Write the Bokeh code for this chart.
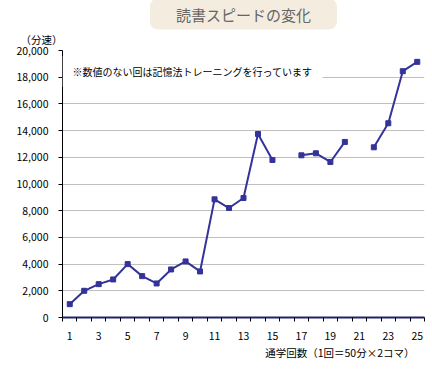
import numpy as np
from bokeh.plotting import figure
from bokeh.models import Label, Title, FixedTicker, NumeralTickFormatter, Range1d
from bokeh.embed import file_html
from bokeh.resources import INLINE

title_text = "読書スピードの変化"
y_unit_label = "（分速）"
x_axis_title = "通学回数（1回＝50分×2コマ）"
note_text = "※数値のない回は記憶法トレーニングを行っています"

sessions = list(range(1, 26))
speed = [1000, 2000, 2500, 2850, 4000, 3100, 2550, 3600, 4200, 3450,
         8850, 8200, 8950, 13750, 11800, np.nan, 12150, 12300, 11650, 13150,
         np.nan, 12750, 14550, 18450, 19150]
y_ticks = list(range(0, 20001, 2000))

FONT = "Noto Sans CJK JP"
NAVY = "#333399"

p = figure(width=432, height=369, output_backend="svg", toolbar_location=None,
           x_range=Range1d(0.5, 25.5), y_range=Range1d(0, 20000),
           min_border_left=62, min_border_right=8, min_border_top=50,
           min_border_bottom=52, background_fill_color="white",
           border_fill_color="white", outline_line_color=None)

p.line(sessions, speed, line_color=NAVY, line_width=2)
p.scatter(sessions, speed, marker="square", size=5, fill_color=NAVY, line_color=NAVY)

# x axis
xa = p.xaxis[0]
xa.ticker = FixedTicker(ticks=sessions, minor_ticks=[s - 0.5 for s in sessions] + [25.5])
xa.major_label_overrides = {s: (str(s) if s % 2 == 1 else "") for s in sessions}
xa.major_tick_out = 0
xa.major_tick_in = 0
xa.minor_tick_out = 4
xa.minor_tick_in = 0
xa.minor_tick_line_color = "black"
xa.axis_line_color = "#22226a"
xa.axis_line_width = 2
xa.major_label_standoff = 10
xa.major_label_text_font = FONT
xa.major_label_text_font_size = "10.5px"
xa.major_label_text_color = "black"

# y axis
ya = p.yaxis[0]
ya.ticker = FixedTicker(ticks=y_ticks)
ya.formatter = NumeralTickFormatter(format="0,0")
ya.major_tick_out = 4
ya.major_tick_in = 0
ya.minor_tick_line_color = None
ya.axis_line_color = "black"
ya.axis_line_width = 1
ya.major_label_standoff = 10
ya.major_label_text_font = FONT
ya.major_label_text_font_size = "10.5px"
ya.major_label_text_color = "black"

p.xgrid.grid_line_color = None
p.ygrid.ticker = FixedTicker(ticks=y_ticks[1:])
p.ygrid.grid_line_color = "#c0c0c0"
p.ygrid.grid_line_width = 1

# note with white background
p.add_layout(Label(x=0, y=246, x_units="screen", y_units="screen", text=note_text,
                   text_font=FONT, text_font_size="10px", text_color="black",
                   text_baseline="middle", background_fill_color="white",
                   padding=(10, 8)))

# unit label (closest to frame), then main title
p.add_layout(Title(text=y_unit_label, align="left", offset=-42, standoff=8,
                   text_font=FONT, text_font_size="10.5px", text_color="black",
                   text_font_style="normal"), "above")
p.add_layout(Title(text=title_text, align="center", offset=-4, standoff=-8,
                   text_font=FONT, text_font_size="15px", text_color="#666666",
                   text_font_style="normal", background_fill_color="#f3ecdf",
                   border_radius=8, padding=(26, 5)), "above")

# x axis title
p.add_layout(Title(text=x_axis_title, align="right", offset=10, standoff=0,
                   text_font=FONT, text_font_size="10.5px", text_color="black",
                   text_font_style="normal"), "below")

open("out.html", "w").write(file_html(p, INLINE))
